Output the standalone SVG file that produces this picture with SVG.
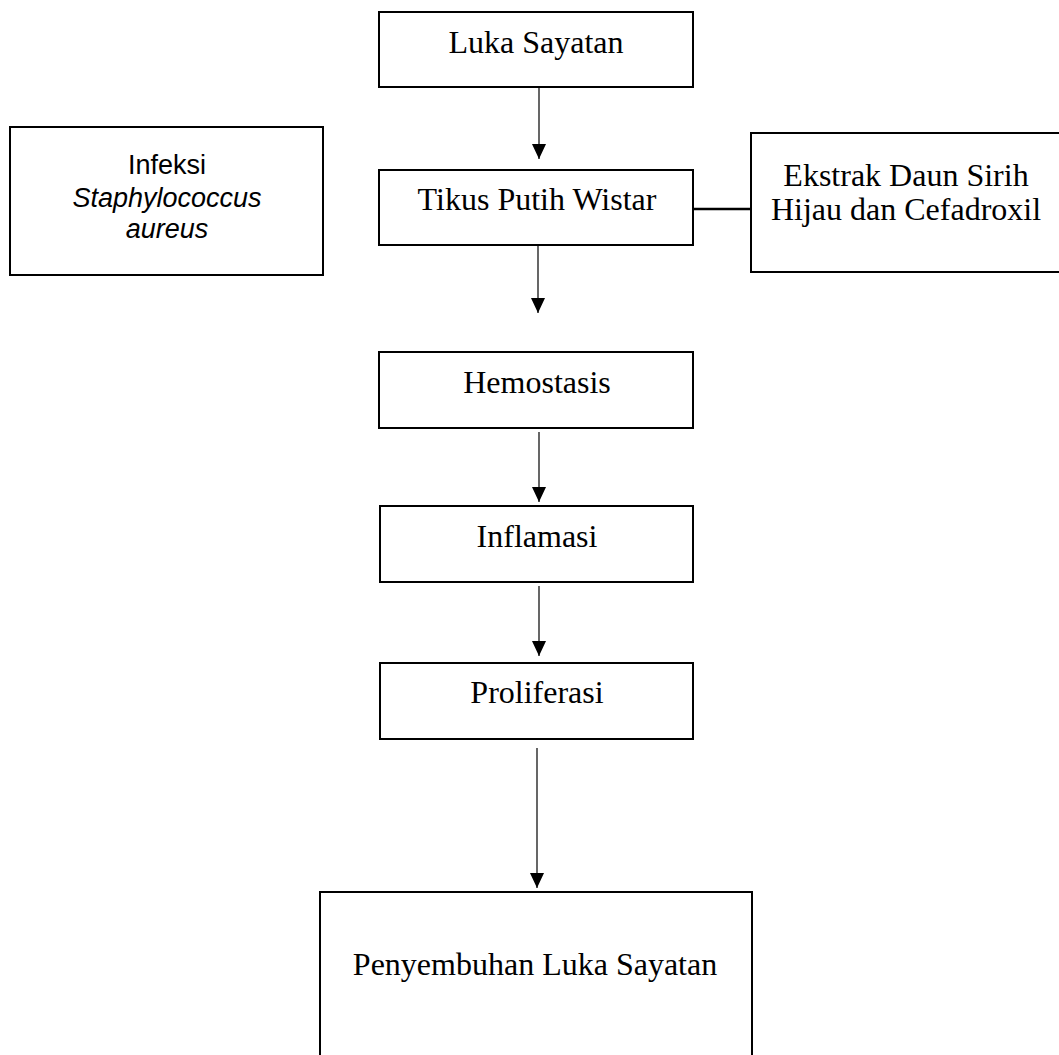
<svg xmlns="http://www.w3.org/2000/svg" width="1059" height="1055" viewBox="0 0 1059 1055">
<defs>
<style>
.box{fill:#fff;stroke:#000;stroke-width:2}
.t{font-family:"Liberation Serif","Times New Roman",serif;font-size:32px;fill:#000;text-anchor:middle}
.c{font-family:"Liberation Sans",Arial,sans-serif;font-size:27px;fill:#000;text-anchor:middle}
.arr{stroke:#000;stroke-width:1.2;fill:none;marker-end:url(#ah)}
</style>
<marker id="ah" markerUnits="userSpaceOnUse" markerWidth="16" markerHeight="16" refX="15" refY="7" orient="auto" viewBox="0 0 16 16">
<path d="M0,0 L15,7 L0,14 z" fill="#000"/>
</marker>
</defs>
<rect width="1059" height="1055" fill="#fff"/>
<g id="connectors">
<line class="arr" x1="539" y1="88" x2="539" y2="159"/>
<line class="arr" x1="538" y1="246" x2="538" y2="313"/>
<line class="arr" x1="539" y1="432" x2="539" y2="502"/>
<line class="arr" x1="539" y1="586" x2="539" y2="656"/>
<line class="arr" x1="537" y1="748" x2="537" y2="888"/>
<line x1="689" y1="209" x2="751" y2="209" stroke="#000" stroke-width="2.5"/>
</g>
<g id="luka">
<rect class="box" x="379" y="12" width="314" height="75"/>
<text class="t" x="536" y="53">Luka Sayatan</text>
</g>
<g id="tikus">
<rect class="box" x="379" y="170" width="314" height="75"/>
<text class="t" x="537" y="210">Tikus Putih Wistar</text>
</g>
<g id="infeksi">
<rect class="box" x="10" y="127" width="313" height="148"/>
<text class="c" x="167" y="174">Infeksi</text>
<text class="c" x="167" y="207" font-style="italic">Staphylococcus</text>
<text class="c" x="167" y="238" font-style="italic">aureus</text>
</g>
<g id="ekstrak">
<rect class="box" x="751" y="133" width="320" height="139"/>
<text class="t" x="906" y="186">Ekstrak Daun Sirih</text>
<text class="t" x="906" y="220">Hijau dan Cefadroxil</text>
</g>
<g id="hemostasis">
<rect class="box" x="379" y="352" width="314" height="76"/>
<text class="t" x="537" y="393">Hemostasis</text>
</g>
<g id="inflamasi">
<rect class="box" x="380" y="506" width="313" height="76"/>
<text class="t" x="537" y="547">Inflamasi</text>
</g>
<g id="proliferasi">
<rect class="box" x="380" y="663" width="313" height="76"/>
<text class="t" x="537" y="703">Proliferasi</text>
</g>
<g id="penyembuhan">
<rect class="box" x="320" y="892" width="432" height="200"/>
<text class="t" x="535" y="975">Penyembuhan Luka Sayatan</text>
</g>
</svg>
